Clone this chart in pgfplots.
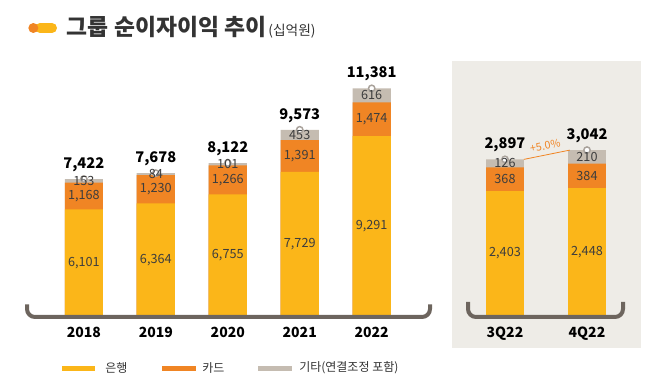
\documentclass[border=0pt]{standalone}
\usepackage{pgfplots}
\pgfplotsset{compat=1.18}
\usepackage{pgfplotstable}
\usepackage{fontspec}
\setmainfont{Noto Sans CJK KR}
\definecolor{cBank}{HTML}{FBB619}
\definecolor{cCard}{HTML}{F08524}
\definecolor{cEtc}{HTML}{C5BCB1}
\definecolor{cBracket}{HTML}{6D655E}
\definecolor{cPanel}{HTML}{EEECE7}
\definecolor{cText}{HTML}{3D3D3D}
\definecolor{cTitle}{HTML}{333333}
\definecolor{cDot}{HTML}{A9A29B}

\pgfplotstableread{
x bank card etc total
0 6101 1168 153 7422
1 6364 1230 84 7678
2 6755 1266 101 8122
3 7729 1391 453 9573
4 9291 1474 616 11381
}\annual
\pgfplotstableread{
x bank card etc total
0 2403 368 126 2897
1 2448 384 210 3042
}\quarter

\pgfplotsset{
  panel/.style={
    scale only axis, height=192pt,
    axis line style={draw=none}, major tick length=0pt, tick style={draw=none},
    ytick=\empty,
    xticklabel style={font=\bfseries\fontsize{10.5}{10.5}\selectfont, text=black, yshift=-5pt},
    clip=true,
    /pgf/number format/fixed, /pgf/number format/precision=0,
    /pgf/number format/1000 sep={,}, /pgf/number format/assume math mode=true,
  },
  seg/.style={ybar, bar shift=0pt, draw=none, fill=#1},
  seglabel/.style={draw=none, mark=none, nodes near coords, point meta=explicit,
    every node near coord/.style={anchor=center, font=\fontsize{9.5}{9.5}\selectfont, text=cText}},
  totlabel/.style={draw=none, mark=none, nodes near coords, point meta=explicit,
    every node near coord/.style={anchor=south, yshift=2pt, font=\bfseries\fontsize{11}{11}\selectfont, text=black}},
  dot/.style={only marks, mark=*, mark size=2.4pt, mark options={fill=white, draw=cDot, line width=1.1pt}},
}

\begin{document}
\begin{tikzpicture}
\path[use as bounding box] (0,0) rectangle (495pt,285.75pt);
% right panel background
\fill[cPanel] (339pt,24.75pt) rectangle (480.75pt,240pt);

% title
\fill[cBank] (30pt,264.75pt) circle (3.75pt);
\fill[cBank] (30pt,261pt) rectangle (39pt,268.5pt);
\fill[cBank] (39pt,264.75pt) circle (3.75pt);
\fill[cCard] (25pt,264.75pt) circle (3.75pt);
\node[anchor=west, inner sep=0pt, text=cTitle] at (50pt,265.5pt)
  {{\bfseries\fontsize{17.1}{17.1}\selectfont 그룹 순이자이익 추이}\,{\fontsize{10.3}{10.3}\selectfont (십억원)}};

% left chart
\begin{axis}[panel,
  at={(20.25pt,48.75pt)}, anchor=south west, width=302.25pt,
  xmin=-0.79, xmax=4.81, ymin=1441, ymax=12620,
  xtick={0,1,2,3,4}, xticklabels={2018,2019,2020,2021,2022},
  bar width=0.53]
\addplot[seg=cEtc] table[x=x, y=total]{\annual};
\addplot[seg=cCard] table[x=x, y expr=\thisrow{bank}+\thisrow{card}]{\annual};
\addplot[seg=cBank] table[x=x, y=bank]{\annual};
\addplot[dot] table[x=x, y=total]{\annual};
\addplot[seglabel] table[x=x, y expr=(1441+\thisrow{bank})/2, meta=bank]{\annual};
\addplot[seglabel] table[x=x, y expr=\thisrow{bank}+\thisrow{card}/2, meta=card]{\annual};
\addplot[seglabel] table[x=x, y expr=\thisrow{bank}+\thisrow{card}+\thisrow{etc}/2, meta=etc]{\annual};
\addplot[totlabel] table[x=x, y=total, meta=total]{\annual};
\end{axis}

% right chart
\begin{axis}[panel,
  at={(351pt,48.75pt)}, anchor=south west, width=116.25pt,
  xmin=-0.451, xmax=1.439, ymin=450, ymax=4450,
  xtick={0,1}, xticklabels={3Q22,4Q22},
  bar width=0.463]
\addplot[seg=cEtc] table[x=x, y=total]{\quarter};
\addplot[seg=cCard] table[x=x, y expr=\thisrow{bank}+\thisrow{card}]{\quarter};
\addplot[seg=cBank] table[x=x, y=bank]{\quarter};
\addplot[cCard, line width=0.6pt] coordinates {(0.23,2897) (0.79,3042)};
\addplot[dot] table[x=x, y=total]{\quarter};
\addplot[seglabel] table[x=x, y expr=(450+\thisrow{bank})/2, meta=bank]{\quarter};
\addplot[seglabel] table[x=x, y expr=\thisrow{bank}+\thisrow{card}/2, meta=card]{\quarter};
\addplot[seglabel] table[x=x, y expr=\thisrow{bank}+\thisrow{card}+\thisrow{etc}/2, meta=etc]{\quarter};
\addplot[totlabel] table[x=x, y=total, meta=total]{\quarter};
\node[rotate=11, text=cCard, font=\fontsize{8}{8}\selectfont, inner sep=0pt] at (axis cs:0.49,3110) {+5.0\%};
\end{axis}

% brackets
\draw[cBracket, line width=3pt, rounded corners=6pt] (20.25pt,57.5pt) -- (20.25pt,48pt) -- (322.5pt,48pt) -- (322.5pt,57.5pt);
\draw[cBracket, line width=3pt, rounded corners=6pt] (351pt,59.25pt) -- (351pt,48pt) -- (467.25pt,48pt) -- (467.25pt,59.25pt);

% legend
\fill[cBank] (46.5pt,7.5pt) rectangle (71.25pt,11.5pt);
\node[anchor=west, inner sep=0pt, text=cTitle, font=\fontsize{9}{9}\selectfont] at (78.75pt,9.75pt) {은행};
\fill[cCard] (121.5pt,7.5pt) rectangle (147pt,11.5pt);
\node[anchor=west, inner sep=0pt, text=cTitle, font=\fontsize{9}{9}\selectfont] at (151.5pt,9.75pt) {카드};
\fill[cEtc] (193.5pt,7.5pt) rectangle (219pt,11.5pt);
\node[anchor=west, inner sep=0pt, text=cTitle, font=\fontsize{9}{9}\selectfont] at (224.25pt,9.75pt) {기타(연결조정 포함)};
\end{tikzpicture}
\end{document}
